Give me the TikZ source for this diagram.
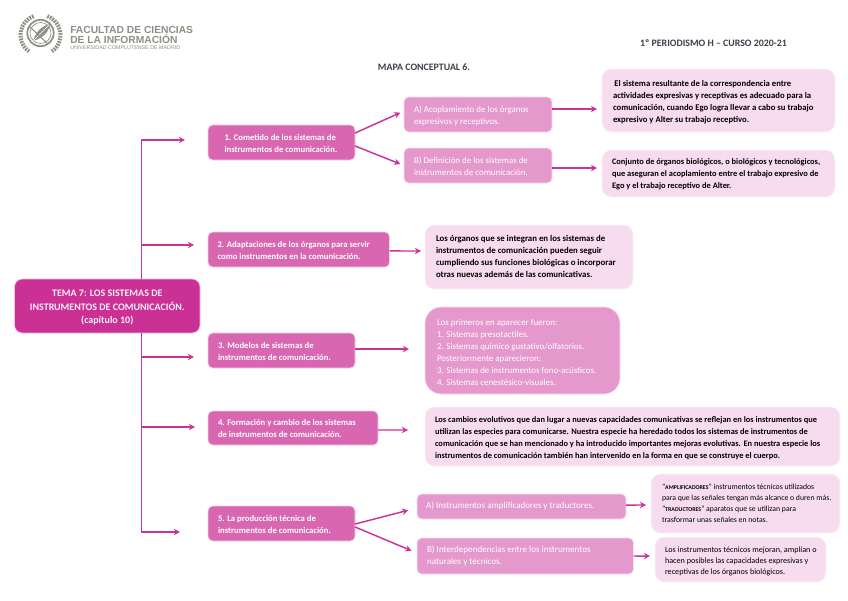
\documentclass[tikz,border=0pt]{standalone}
\usepackage{fontspec}
\setmainfont{Carlito}
\newfontfamily\logofont{Liberation Sans}
\usetikzlibrary{arrows.meta}
\definecolor{cRoot}{HTML}{CB3094}
\definecolor{cMid}{HTML}{D866B0}
\definecolor{cSub}{HTML}{E598CC}
\definecolor{cNote}{HTML}{F6DCEE}
\definecolor{cLine}{HTML}{CC3399}
\definecolor{cLogo}{HTML}{8F8F86}
\definecolor{cHead}{HTML}{3F3F4A}
\tikzset{
  base/.style={inner sep=0pt,outer sep=0pt,align=center,line width=0.5pt,draw=white!70!#1,fill=#1},
  rootbox/.style={base=cRoot,rounded corners=6pt,text=white!92!cRoot,font={\fontsize{7.5}{10.2}\selectfont\bfseries}},
  midbox/.style={base=cMid,rounded corners=3.5pt,text=white,font={\fontsize{6.5}{9}\selectfont\bfseries}},
  subbox/.style={base=cSub,rounded corners=3.5pt,text=white,font={\fontsize{6.7}{9}\selectfont}},
  notebox/.style={base=cNote,rounded corners=7pt,text=black,font={\fontsize{6.5}{9}\selectfont\bfseries}},
  noteplain/.style={base=cNote,rounded corners=7pt,text=black,font={\fontsize{6.1}{8.4}\selectfont}},
  listbox/.style={base=cSub,rounded corners=12pt,text=white,font={\fontsize{6.7}{9.1}\selectfont}},
  conn/.style={draw=cLine,line width=1.1pt,-{Stealth[length=4.6pt,width=4.8pt]}},
  headtext/.style={text=cHead,inner sep=0pt,font={\fontsize{7.4}{8}\selectfont\bfseries}},
  logotext/.style={text=cLogo,inner sep=0pt,anchor=west,font={\logofont\fontsize{7.7}{8}\selectfont\bfseries}},
  logosmall/.style={text=cLogo,inner sep=0pt,anchor=west,font={\logofont\fontsize{4}{4}\selectfont}},
}
% \bx{x0}{y0}{x1}{y1}{style}{name}{text start x}{lines}; \bxk pushes the lines down by half its value
\def\bxk{2.2pt}
\newcommand{\bx}[8]{%
  \pgfmathsetlengthmacro\bxw{(#3-#1)*0.75pt}%
  \pgfmathsetlengthmacro\bxp{(#7-#1)*0.75pt}%
  \node[#5,minimum width={(#3-#1)*0.75pt},minimum height={(#4-#2)*0.75pt}] (#6) at ({(#1+#3)/2},{(#2+#4)/2})
    {\vbox{\kern\bxk\hbox{\makebox[\bxw][l]{\hspace*{\bxp}\begin{tabular}{@{}l@{}}#8\end{tabular}}}}};}
\begin{document}
\begin{tikzpicture}[x=0.75pt,y=-0.75pt]
\useasboundingbox (0,0) rectangle (848,600);
\fill[white] (0,0) rectangle (848,600);

% logo
\draw[cLogo,line width=1.3pt] (40.5,33) circle (13.2);
\draw[cLogo,line width=0.5pt] (40.5,33) circle (10.5);
\draw[cLogo,line width=3pt,dash pattern=on 1.3pt off 0.8pt] (40.5,35) ++(250:20) arc (250:125:20);
\draw[cLogo,line width=3pt,dash pattern=on 1.3pt off 0.8pt] (40.5,35) ++(-70:20) arc (-70:55:20);
\fill[cLogo] (33,41) .. controls (36,31) and (42,26) .. (50,24) .. controls (49,32) and (43,38) .. (33,41);
\draw[white,line width=0.4pt] (33,41) -- (49,25);
\draw[cLogo,line width=0.8pt] (30,27) -- (47,43);
\node[logotext] (lg1) at (70,29.5) {FACULTAD DE CIENCIAS};
\node[logotext] (lg2) at (70,38.5) {DE LA INFORMACIÓN};
\node[logosmall] (lg3) at (70,47.5) {UNIVERSIDAD COMPLUTENSE DE MADRID};

\node[headtext] (head) at (713.5,43.5) {1º PERIODISMO H – CURSO 2020-21};
\node[headtext] (title) at (424,67.5) {MAPA CONCEPTUAL 6.};

% boxes
\node[rootbox,minimum width={185.5*0.75pt},minimum height={54*0.75pt}] (root) at (107.25,306) {\rule{0pt}{7.7pt}TEMA 7: LOS SISTEMAS DE\\INSTRUMENTOS DE COMUNICACIÓN.\\(capítulo 10)};

\bx{208}{125}{355}{160}{midbox}{m1}{224.5}{1. Cometido de los sistemas de\\instrumentos de comunicación.}
\bx{404}{97}{552}{132}{subbox}{a1}{414}{A) Acoplamiento de los órganos\\expresivos y receptivos.}
\bx{404}{148}{552}{183}{subbox}{b1}{414}{B) Definición de los sistemas de\\instrumentos de comunicación.}
\bx{602}{69}{835}{132}{notebox}{na1}{613}{\,El sistema resultante de la correspondencia entre\\actividades expresivas y receptivas es adecuado para la\\comunicación, cuando Ego logra llevar a cabo su trabajo\\expresivo y Alter su trabajo receptivo.}
\def\bxk{1pt}
\bx{602}{150}{835}{197}{notebox,font={\fontsize{6.3}{9}\selectfont\bfseries}}{nb1}{612}{Conjunto de órganos biológicos, o biológicos y tecnológicos,\\que aseguran el acoplamiento entre el trabajo expresivo de\\Ego y el trabajo receptivo de Alter.}
\def\bxk{2.2pt}

\bx{208}{232}{389.5}{267}{midbox}{m2}{217.5}{2. Adaptaciones de los órganos para servir\\como instrumentos en la comunicación.}
\def\bxk{0pt}
\bx{425}{225}{633}{289}{notebox,font={\fontsize{6.6}{9}\selectfont\bfseries}}{n2}{436}{Los órganos que se integran en los sistemas de\\instrumentos de comunicación pueden seguir\\cumpliendo sus funciones biológicas o incorporar\\otras nuevas además de las comunicativas.}
\def\bxk{2.2pt}

\bx{208}{333}{355}{368}{midbox}{m3}{218}{3. Modelos de sistemas de\\instrumentos de comunicación.}
\def\bxk{3.7pt}
\bx{425}{307}{620}{394}{listbox}{n3}{437}{Los primeros en aparecer fueron:\\1. Sistemas presotactiles.\\2. Sistemas químico gustativo/olfatorios.\\Posteriormente aparecieron:\\3. Sistemas de instrumentos fono-acústicos.\\4. Sistemas cenestésico-visuales.}
\def\bxk{2.2pt}

\bx{208}{411}{378}{445}{midbox}{m4}{218}{4. Formación y cambio de los sistemas\\de instrumentos de comunicación.}
\bx{425}{407}{840}{466}{notebox,font={\fontsize{6.3}{9}\selectfont\bfseries}}{n4}{435}{Los cambios evolutivos que dan lugar a nuevas capacidades comunicativas se reflejan en los instrumentos que\\utilizan las especies para comunicarse. Nuestra especie ha heredado todos los sistemas de instrumentos de\\comunicación que se han mencionado y ha introducido importantes mejoras evolutivas. En nuestra especie los\\instrumentos de comunicación también han intervenido en la forma en que se construye el cuerpo.}

\bx{208}{506}{355}{541}{midbox}{m5}{218}{5. La producción técnica de\\instrumentos de comunicación.}
\def\bxk{0pt}
\bx{417}{494}{626}{519}{subbox,font={\fontsize{6.8}{9}\selectfont}}{a5}{426}{A) Instrumentos amplificadores y traductores.}
\def\bxk{0.8pt}
\bx{417}{538}{633.5}{574}{subbox,font={\fontsize{6.8}{9}\selectfont}}{b5}{427}{B) Interdependencias entre los instrumentos\\naturales y técnicos.}
\def\bxk{0pt}
\bx{651}{474}{840}{533}{noteplain,font={\fontsize{5.8}{8.3}\selectfont}}{n5a}{662}{"{\fontsize{4.4}{8.3}\selectfont\bfseries AMPLIFICADORES}" instrumentos técnicos utilizados\\para que las señales tengan más alcance o duren más.\\"{\fontsize{4.4}{8.3}\selectfont\bfseries TRADUCTORES}" aparatos que se utilizan para\\trasformar unas señales en notas.}
\def\bxk{2.2pt}
\bx{655}{537}{826}{582}{noteplain}{n5b}{665}{Los instrumentos técnicos mejoran, amplían o\\hacen posibles las capacidades expresivas y\\receptivas de los órganos biológicos.}

% trunk connectors
\draw[conn,shorten >=17.25pt] ([xshift=25.5pt]root.north) |- ([yshift=1.9pt]m1.west);
\draw[conn,shorten >=10.5pt] ([xshift=25.5pt]root.north) |- ([yshift=3.4pt]m2.west);
\draw[conn,shorten >=10.5pt] ([xshift=25.5pt]root.south) |- ([yshift=-4.9pt]m3.west);
\draw[conn,shorten >=9.75pt] ([xshift=25.5pt]root.south) |- ([yshift=0.75pt]m4.west);
\draw[conn,shorten >=21pt] ([xshift=25.5pt]root.south) |- ([yshift=-6.4pt]m5.west);

% branch connectors
\draw[conn,shorten >=3pt] ([yshift=7.1pt]m1.east) -- ([yshift=2.6pt]a1.west);
\draw[conn,shorten >=3pt] ([yshift=-2.6pt]m1.east) -- (b1.west);
\draw[conn,shorten >=3.75pt] ([yshift=4.1pt]a1.east) -- ([yshift=-6.4pt]na1.west);
\draw[conn,shorten >=3.75pt] ([yshift=-1.9pt]b1.east) -- ([yshift=4.1pt]nb1.west);
\draw[conn,shorten >=3pt] ([yshift=-1.1pt]m2.east) -- ([yshift=4.5pt]n2.west);
\draw[conn,shorten >=12pt] ([yshift=1.1pt]m3.east) -- ([yshift=1.1pt]n3.west);
\draw[conn,shorten >=12.75pt] ([yshift=-1.5pt]m4.east) -- ([yshift=4.9pt]n4.west);
\draw[conn,shorten >=6.75pt] ([yshift=-0.4pt]m5.east) -- ([yshift=-1.1pt]a5.west);
\draw[conn,shorten >=4.5pt] ([yshift=-2.6pt]m5.east) -- ([yshift=2.25pt]b5.west);
\draw[conn,shorten >=3.75pt] ([yshift=1.1pt]a5.east) -- ([yshift=-1.1pt]n5a.west);
\draw[conn,shorten >=3.75pt] (b5.east) -- ([yshift=2.6pt]n5b.west);
\end{tikzpicture}
\end{document}
